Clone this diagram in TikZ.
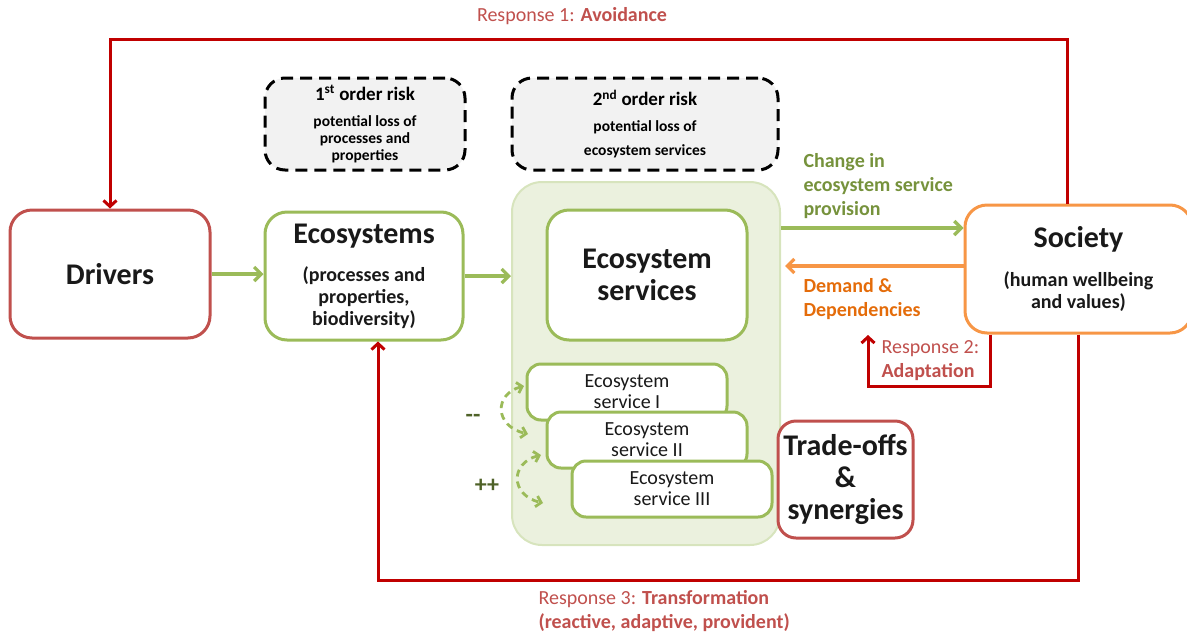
\documentclass[tikz,border=0pt]{standalone}
\usepackage{fontspec}
\setmainfont{Carlito}
\usetikzlibrary{calc,arrows.meta}

\definecolor{boxred}{HTML}{C0504D}
\definecolor{linered}{HTML}{C00000}
\definecolor{boxgreen}{HTML}{9BBB59}
\definecolor{contfill}{HTML}{EBF1DE}
\definecolor{contdraw}{HTML}{D7E4BD}
\definecolor{boxorange}{HTML}{F79646}
\definecolor{textorange}{HTML}{E46C0A}
\definecolor{textgreen}{HTML}{76923C}
\definecolor{darkgreen}{HTML}{4F6228}
\definecolor{riskfill}{HTML}{F2F2F2}

\newcommand{\titlefont}{\fontsize{30}{32}\selectfont\bfseries}
\newcommand{\subfont}{\fontsize{20}{22}\selectfont\bfseries}
\newcommand{\labfont}{\fontsize{20}{24}\selectfont}
\newcommand{\svcfont}{\fontsize{20}{21}\selectfont}
\newcommand{\riskhead}{\fontsize{19}{22}\selectfont\bfseries}
\newcommand{\riskfont}{\fontsize{15.5}{17}\selectfont\bfseries}

\tikzset{
  mainbox/.style={draw, fill=white, line width=3pt, rounded corners=22pt, align=center, inner sep=0pt, text=black!90},
  redbox/.style={mainbox, draw=boxred},
  greenbox/.style={mainbox, draw=boxgreen},
  orangebox/.style={mainbox, draw=boxorange},
  svcbox/.style={greenbox, rounded corners=14pt, minimum width=200pt, minimum height=56pt, font=\svcfont},
  riskbox/.style={draw=black, fill=riskfill, line width=3pt, dash pattern=on 12pt off 7pt, rounded corners=20pt, align=center, inner sep=0pt, minimum height=92pt, font=\riskfont},
  greenarrow/.style={draw=boxgreen, line width=3.2pt, -{Straight Barb[length=7pt,width=14pt]}},
  orangearrow/.style={draw=boxorange, line width=3.2pt, -{Straight Barb[length=7pt,width=14pt]}},
  redarrow/.style={draw=linered, line width=3pt, -{Straight Barb[length=6pt,width=13pt]}},
  dasharrow/.style={draw=boxgreen, line width=2.8pt, dashed, dash pattern=on 7pt off 5pt, {Straight Barb[length=5pt,width=11pt]}-{Straight Barb[length=5pt,width=11pt]}}
}

\begin{document}
\begin{tikzpicture}[x=1pt,y=-1pt]
  %%%%% START %%%%%
  \useasboundingbox (0,0) rectangle (1187,638);

  % risks
  \node[riskbox, minimum width=200pt] (risk1) at (365,124) {{\riskhead 1\textsuperscript{st} order risk}\\[9pt]potential loss of\\processes and\\properties};
  \node[riskbox, minimum width=266pt] (risk2) at (645,124) {{\riskhead 2\textsuperscript{nd} order risk}\\[9pt]potential loss of\\[7pt]ecosystem services};

  % ecosystem services container
  \node[draw=contdraw, fill=contfill, line width=2pt, rounded corners=30pt, minimum width=268pt, minimum height=363pt] (escont) at (646,363.5) {};

  \node[redbox, minimum width=200pt, minimum height=128pt, font=\titlefont] (drivers) at (110,274) {Drivers};
  \node[greenbox, minimum width=198pt, minimum height=128pt, font=\subfont] (ecosys) at (364,276) {{\titlefont Ecosystems}\\[16pt](processes and\\properties,\\biodiversity)};
  \node[greenbox, minimum width=200pt, minimum height=130pt, font=\titlefont] (esbox) at (647,275) {Ecosystem\\services};
  \node[orangebox, minimum width=227pt, minimum height=128pt, font=\subfont] (society) at (1078.5,269) {{\titlefont Society}\\[17pt](human wellbeing\\and values)};

  % single services
  \node[svcbox] (es1) at (627,392) {Ecosystem\\service I};
  \node[svcbox] (es2) at (647,440) {Ecosystem\\service II};
  \node[svcbox] (es3) at (672,489) {Ecosystem\\service III};

  \node[redbox, rounded corners=18pt, minimum width=135pt, minimum height=117pt, font=\titlefont] (tradeoff) at (845.5,479.5) {Trade-offs\\\&\\synergies};

  % flows
  \draw[greenarrow] (drivers.east) -- (drivers.east -| ecosys.west);
  \draw[greenarrow] (ecosys.east) -- (ecosys.east -| escont.west);

  \coordinate (chg) at (0,228);
  \coordinate (dem) at (0,266);
  \draw[greenarrow] (escont.east |- chg) -- (society.west |- chg);
  \draw[orangearrow] (society.west |- dem) -- ($(escont.east |- dem)+(4,0)$);

  \node[anchor=west, align=left, font=\labfont\bfseries, text=textgreen] (chglab) at (800,186) {Change in\\ecosystem service\\provision};
  \node[anchor=west, align=left, font=\labfont\bfseries, text=textorange] (demlab) at (800,299) {Demand \&\\Dependencies};

  % responses
  \coordinate (r1) at (1067,39);
  \coordinate (r2) at (990,386);
  \coordinate (r2tip) at (868,335);
  \coordinate (r3) at (1078,580);
  \draw[redarrow] (society.north -| r1) -- (r1) -| (drivers.north);
  \draw[redarrow] (society.south -| r2) -- (r2) -| (r2tip);
  \draw[redarrow] (society.south -| r3) -- (r3) -| ($(ecosys.south)+(14,0)$);

  \node[font=\labfont, text=boxred] (r1lab) at (572,16) {Response 1: \textbf{Avoidance}};
  \node[anchor=west, align=left, font=\labfont, text=boxred] (r2lab) at (878,361) {Response 2:\\\textbf{Adaptation}};
  \node[anchor=west, align=left, font=\labfont, text=boxred] (r3lab) at (535,611) {Response 3: \textbf{Transformation}\\\textbf{(reactive, adaptive, provident)}};

  % trade-offs and synergies
  \coordinate (t1a) at (524,386);
  \coordinate (t1b) at (528,434);
  \coordinate (t2a) at (541,455);
  \coordinate (t2b) at (543,503);
  \draw[dasharrow] (t1a) .. controls (494,394) and (494,426) .. (t1b);
  \draw[dasharrow] (t2a) .. controls (510,463) and (510,495) .. (t2b);
  \node[font=\fontsize{24}{24}\selectfont\bfseries, text=darkgreen] (minus) at (473,418) {-{}-};
  \node[font=\fontsize{24}{24}\selectfont\bfseries, text=darkgreen] (plus) at (487,486) {++};

  %%%%% END %%%%%
\end{tikzpicture}
\end{document}
